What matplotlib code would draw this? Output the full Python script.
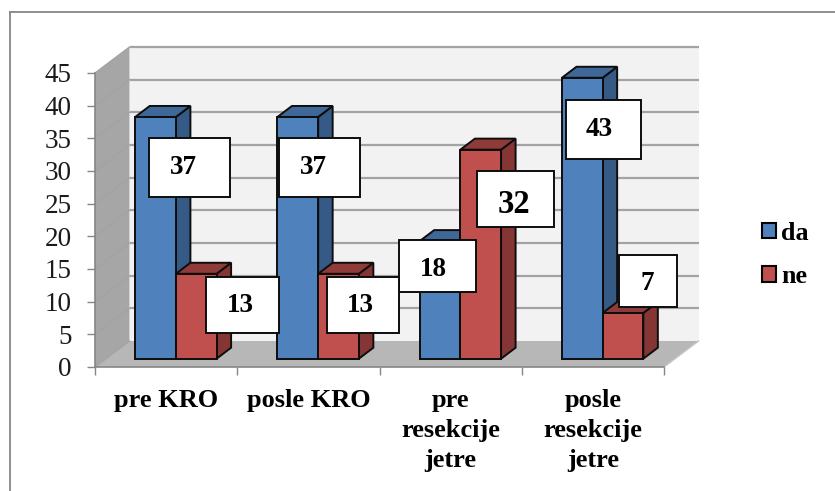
"""Pseudo-3D clustered column chart: da / ne per stage."""

import matplotlib

matplotlib.use("Agg")
import matplotlib.pyplot as plt
from matplotlib.patches import Patch, Polygon, Rectangle

categories = ["pre KRO", "posle KRO", "pre\nresekcije\njetre", "posle\nresekcije\njetre"]
da_values = [37, 37, 18, 43]
ne_values = [13, 13, 32, 7]
y_ticks = list(range(0, 50, 5))

W, H = 835, 491
LEFT, RIGHT, BASE, TOP = 95, 664, 367, 73  # front plane of the plot, px
PX_X = (RIGHT - LEFT) / len(categories)
PX_Y = (BASE - TOP) / 45

WALL_DX, WALL_DY = 34.5 / PX_X, 26 / PX_Y
BAR_X0, BAR_Y0 = 40.2 / PX_X, 8.3 / PX_Y  # bar front corner relative to the slot/floor
BAR_W = 40.7 / PX_X
BAR_DX, BAR_DY = 14.5 / PX_X, 11 / PX_Y

COLORS = {
    "da": ("#4F81BD", "#3F6797", "#345A85"),
    "ne": ("#C0504D", "#8E3B39", "#853634"),
}
GRID = "#A3A3A3"
AXIS = "#868686"
SERIF = "Liberation Serif"

# label boxes in px: left, top, right, bottom, text x, text y, font size
BOXES_DA = [
    (149, 138, 230, 197, 183, 164, 19.5),
    (279, 138, 360, 197, 313, 164, 19.5),
    (399, 240, 476, 292, 433, 266, 19.5),
    (566, 100, 641, 159, 599, 126, 19.5),
]
BOXES_NE = [
    (206, 277, 279, 333, 240, 303, 19.5),
    (327, 277, 399, 333, 360, 303, 19.5),
    (477, 171, 554, 227, 514, 201, 23.5),
    (619, 255, 677, 307, 647, 280, 19.5),
]

fig = plt.figure(figsize=(W / 100, H / 100), dpi=100, facecolor="white")
ax = fig.add_axes([LEFT / W, 1 - BASE / H, (RIGHT - LEFT) / W, (BASE - TOP) / H])
ax.set_xlim(0, len(categories))
ax.set_ylim(0, 45)
ax.patch.set_visible(False)


def poly(points, color, zorder, edge="none", lw=0.0):
    ax.add_patch(Polygon(points, closed=True, facecolor=color, edgecolor=edge, linewidth=lw, clip_on=False, zorder=zorder, joinstyle="miter"))


n = len(categories)
# walls and floor
poly([(0, 0), (WALL_DX, WALL_DY), (n + WALL_DX, WALL_DY), (n, 0)], "#B7B7B7", 0.5)
poly([(WALL_DX, WALL_DY), (WALL_DX, 45 + WALL_DY), (n + WALL_DX, 45 + WALL_DY), (n + WALL_DX, WALL_DY)], "#F2F2F2", 0.5)
poly([(0, 0), (0, 45), (WALL_DX, 45 + WALL_DY), (WALL_DX, WALL_DY)], "#A6A6A6", 0.5)

for v in y_ticks:
    if v > 0:
        ax.plot([WALL_DX, n + WALL_DX], [v + WALL_DY, v + WALL_DY], color=GRID, lw=1.6, clip_on=False, zorder=0.8, solid_capstyle="butt")
    ax.plot([0, WALL_DX], [v, v + WALL_DY], color=GRID, lw=1.0, clip_on=False, zorder=0.8)
ax.plot([n, n + WALL_DX], [0, WALL_DY], color="#C4C4C4", lw=1.0, clip_on=False, zorder=0.8)


def draw_bar(x, value, colors):
    front, top, side = colors
    y0 = BAR_Y0
    y1 = BAR_Y0 + value
    x1 = x + BAR_W
    edge = {"edge": "#0D0D0D", "lw": 1.4}
    poly([(x1, y0), (x1 + BAR_DX, y0 + BAR_DY), (x1 + BAR_DX, y1 + BAR_DY), (x1, y1)], side, 2, **edge)
    poly([(x, y1), (x + BAR_DX, y1 + BAR_DY), (x1 + BAR_DX, y1 + BAR_DY), (x1, y1)], top, 2, **edge)
    poly([(x, y0), (x1, y0), (x1, y1), (x, y1)], front, 2, **edge)


for i in range(n):
    draw_bar(i + BAR_X0, da_values[i], COLORS["da"])
    draw_bar(i + BAR_X0 + BAR_W, ne_values[i], COLORS["ne"])

# axes
for name in ("top", "right"):
    ax.spines[name].set_visible(False)
for name in ("left", "bottom"):
    ax.spines[name].set_color(AXIS)
    ax.spines[name].set_linewidth(1.2)
ax.set_yticks(y_ticks)
ax.set_xticks(range(n + 1))
ax.set_xticklabels([])
ax.set_xticks([i + 0.5 for i in range(n)], minor=True)
ax.set_xticklabels(categories, minor=True, family=SERIF, fontweight="bold", fontsize=19, linespacing=1.41)
ax.tick_params(axis="x", which="minor", length=0, pad=15.5)
ax.tick_params(axis="x", which="major", length=5.8, width=1.0, color=AXIS)
ax.tick_params(axis="y", length=5.8, width=1.0, color=AXIS, pad=11)
for label in ax.get_yticklabels():
    label.set_family(SERIF)
    label.set_fontsize(19.5)
    label.set_color("#1A1A1A")

# legend
ax.legend(
    handles=[
        Patch(facecolor=COLORS["da"][0], edgecolor="black", linewidth=1.5, label="da"),
        Patch(facecolor=COLORS["ne"][0], edgecolor="black", linewidth=1.5, label="ne"),
    ],
    loc="center left",
    bbox_to_anchor=(762 / W, 1 - 255 / H),
    bbox_transform=fig.transFigure,
    frameon=False,
    prop={"family": SERIF, "weight": "bold", "size": 18.7},
    handlelength=0.54,
    handleheight=0.54,
    handletextpad=0.2,
    labelspacing=0.8,
    borderpad=0.0,
    borderaxespad=0.0,
)

# overlay in px for the chart border and data label boxes
over = fig.add_axes([0, 0, 1, 1])
over.set_xlim(0, W)
over.set_ylim(H, 0)
over.axis("off")
over.patch.set_visible(False)
over.plot([10, 10], [H + 2, 11.5], color=AXIS, lw=1.3)
over.plot([10, W + 2], [11.5, 11.5], color=AXIS, lw=1.3)

for values, boxes in ((da_values, BOXES_DA), (ne_values, BOXES_NE)):
    for value, (x0, y0, x1, y1, tx, ty, size) in zip(values, boxes):
        over.add_patch(Rectangle((x0, y0), x1 - x0, y1 - y0, facecolor="white", edgecolor="#0D0D0D", linewidth=1.4, zorder=5))
        over.text(tx, ty, str(value), ha="center", va="center_baseline", family=SERIF, fontweight="bold", fontsize=size, color="black", zorder=6)

fig.savefig("out.png", dpi=100, facecolor="white")
